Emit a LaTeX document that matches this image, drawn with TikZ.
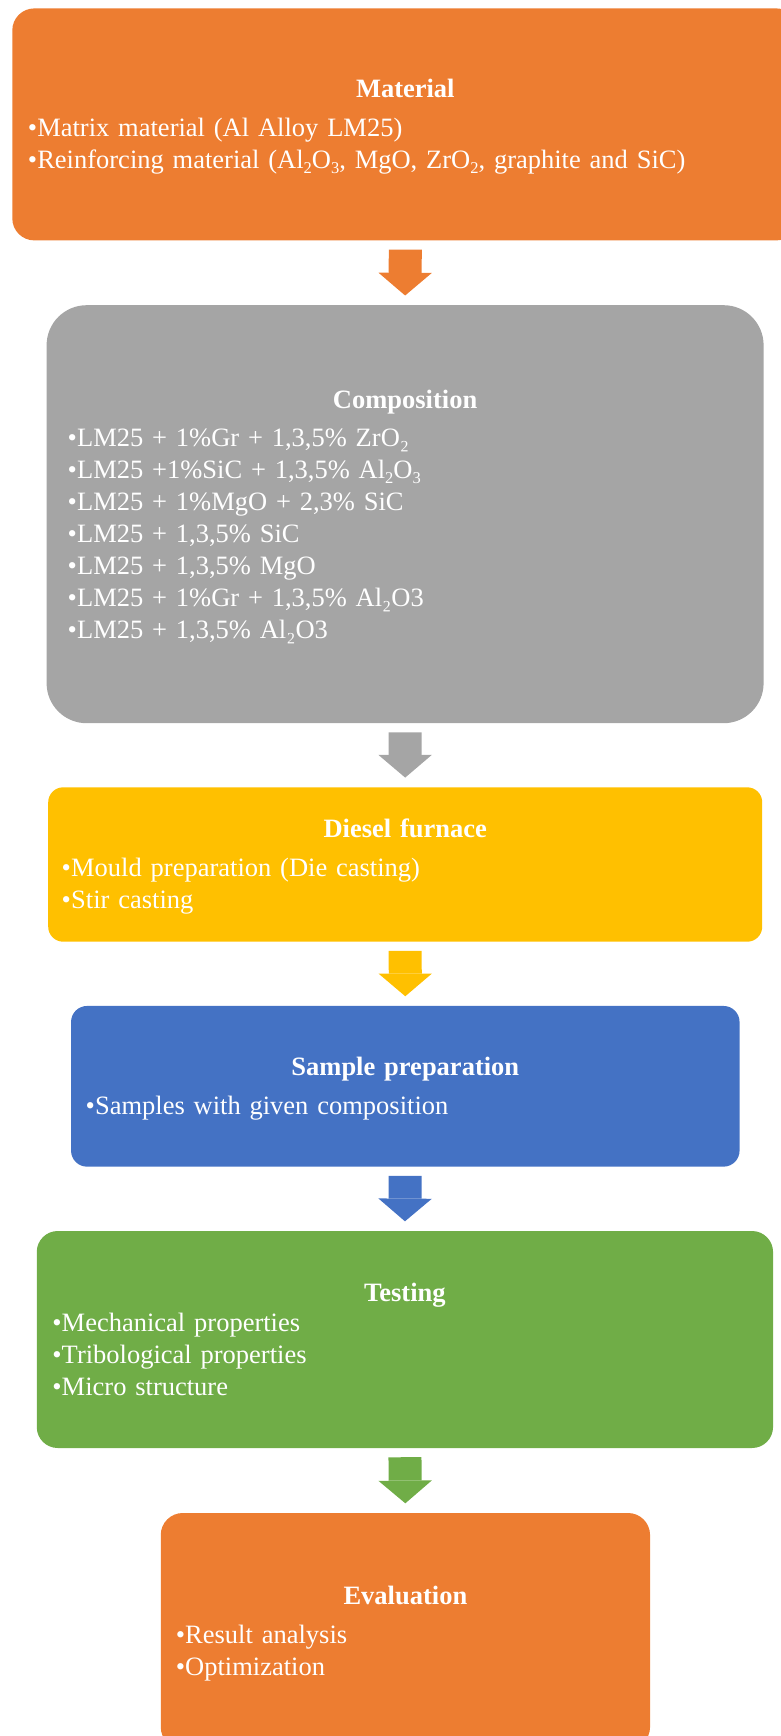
\documentclass[tikz,border=0pt]{standalone}
\usepackage{fontspec}
\setmainfont{Liberation Serif}
\usetikzlibrary{arrows.meta}

\definecolor{stageorange}{HTML}{ED7D31}
\definecolor{stagegray}{HTML}{A5A5A5}
\definecolor{stageyellow}{HTML}{FFC000}
\definecolor{stageblue}{HTML}{4472C4}
\definecolor{stagegreen}{HTML}{70AD47}

\newcommand{\bul}{\makebox[9.5pt][l]{•}}
\newcommand{\low}[1]{\raisebox{-5pt}{\fontsize{16.5}{16.5}\selectfont #1}}
\newcommand{\topstrut}{\rule[-9.6pt]{0pt}{37pt}}

\begin{document}
\begin{tikzpicture}[x=1pt,y=-1pt,
  stage/.style={rectangle,text=white,inner ysep=0pt,font=\fontsize{26.5}{32}\selectfont},
  flow/.style={line width=33pt,-{Triangle[length=22.7pt,width=53.4pt,line width=0pt]},
    shorten <=9pt,shorten >=9.5pt}]

  \useasboundingbox (0,0) rectangle (781,1736);
  \clip (0,0) rectangle (781,1736);

  \node[stage,fill=stageorange,rounded corners=22pt,minimum width=786pt,minimum height=232pt,
    inner xsep=15.5pt,text width=755pt] (mat) at (405.3,124.4)
    {\centering\textbf{Material}\topstrut\par\vspace{7pt}\raggedright
     \bul Matrix material (Al Alloy LM25)\\
     \bul Reinforcing material (Al\low{2}O\low{3}, MgO, ZrO\low{2}, graphite and SiC)\strut};

  \node[stage,fill=stagegray,rounded corners=40pt,minimum width=717pt,minimum height=418pt,
    inner xsep=21pt,text width=675pt] (comp) at (405.1,514.2)
    {\centering\textbf{Composition}\topstrut\par\vspace{6pt}\raggedright
     \bul LM25 + 1\%Gr + 1,3,5\% ZrO₂\\
     \bul LM25 +1\%SiC + 1,3,5\% Al\low{2}O\low{3}\\
     \bul LM25 + 1\%MgO + 2,3\% SiC\\
     \bul LM25 + 1,3,5\% SiC\\
     \bul LM25 + 1,3,5\% MgO\\
     \bul LM25 + 1\%Gr + 1,3,5\% Al₂O3\\
     \bul LM25 + 1,3,5\% Al₂O3\strut};

  \node[stage,fill=stageyellow,rounded corners=15pt,minimum width=714pt,minimum height=154.4pt,
    inner xsep=13.5pt,text width=687pt] (furn) at (405.2,864.5)
    {\centering\textbf{Diesel furnace}\topstrut\par\vspace{7pt}\raggedright
     \bul Mould preparation (Die casting)\\
     \bul Stir casting\strut};

  \node[stage,fill=stageblue,rounded corners=16pt,minimum width=668.5pt,minimum height=160.7pt,
    inner xsep=14.5pt,text width=639.5pt] (samp) at (405.3,1086.3)
    {\centering\textbf{Sample preparation}\topstrut\par\vspace{7pt}\raggedright
     \bul Samples with given composition\strut};

  \node[stage,fill=stagegreen,rounded corners=21pt,minimum width=736.3pt,minimum height=217pt,
    inner xsep=15.5pt,text width=705.3pt] (test) at (404.9,1339.5)
    {\centering\textbf{Testing}\topstrut\par\vspace{-2pt}\raggedright
     \bul Mechanical properties\\
     \bul Tribological properties\\
     \bul Micro structure\strut};

  \node[stage,fill=stageorange,rounded corners=22pt,minimum width=489.3pt,minimum height=236pt,
    inner xsep=15pt,text width=459.3pt] (eval) at (405.4,1631)
    {\centering\textbf{Evaluation}\topstrut\par\vspace{7pt}\raggedright
     \bul Result analysis\\
     \bul Optimization\strut};

  \path[flow]
    (mat.south) edge[color=stageorange] (comp.north)
    (comp.south) edge[color=stagegray] (furn.north)
    (furn.south) edge[color=stageyellow] (samp.north)
    (samp.south) edge[color=stageblue] (test.north)
    (test.south) edge[color=stagegreen] (eval.north);
\end{tikzpicture}
\end{document}
